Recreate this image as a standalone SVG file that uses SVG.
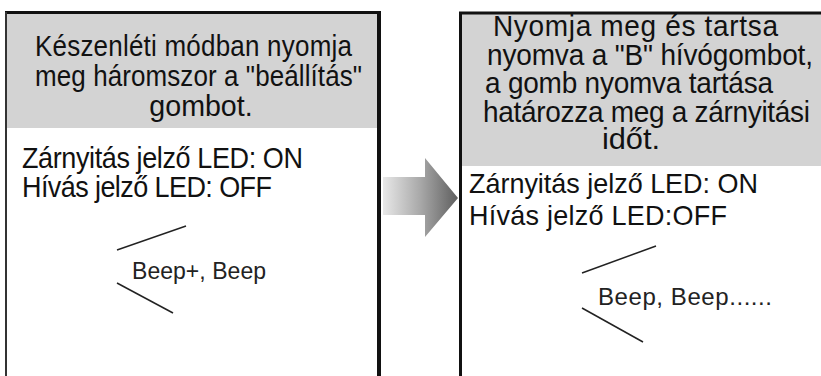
<svg xmlns="http://www.w3.org/2000/svg" width="821" height="376" viewBox="0 0 821 376">
  <style>
    .t { font-family: "Liberation Sans", Arial, sans-serif; fill: #111; }
    .h { font-size: 26px; }
    .hr { font-size: 28px; }
    .b { font-size: 27px; }
    .beep { font-size: 23px; fill: #222; }
    .mid { text-anchor: middle; }
    .hdr { fill: #d3d3d3; }
    .brd { stroke: #111; fill: none; }
    .wave { stroke: #222; stroke-width: 1.5; fill: none; }
  </style>
  <defs>
    <linearGradient id="arrowGrad" x1="383" y1="0" x2="458" y2="0" gradientUnits="userSpaceOnUse">
      <stop offset="0" stop-color="#e8e8e8"/>
      <stop offset="0.5" stop-color="#a8a8a8"/>
      <stop offset="1" stop-color="#5e5e5e"/>
    </linearGradient>
  </defs>
  <rect width="821" height="376" fill="#fff"/>

  <g id="step1">
    <rect x="6" y="13" width="373" height="370" fill="#fff"/>
    <rect class="hdr" x="7" y="14" width="371" height="114"/>
    <line class="brd" x1="5" y1="12.5" x2="381" y2="12.5" stroke-width="3"/>
    <line class="brd" x1="6" y1="12" x2="6" y2="376" stroke-width="2" style="stroke:#333"/>
    <line class="brd" x1="379" y1="11" x2="379" y2="376" stroke-width="4"/>
    <text class="t h" transform="matrix(1 0 0 1.12 35 56)" x="0" y="0" textLength="317">Készenléti módban nyomja</text>
    <text class="t h" transform="matrix(1 0 0 1.12 35 86)" x="0" y="0" textLength="327">meg háromszor a "beállítás"</text>
    <text class="t h mid" transform="matrix(1.1 0 0 1.12 201 116)" x="0" y="0">gombot.</text>
    <text class="t b" transform="matrix(1 0 0 1.1 22 168)" x="0" y="0" textLength="281">Zárnyitás jelző LED: ON</text>
    <text class="t b" transform="matrix(1 0 0 1.1 22 197)" x="0" y="0" textLength="250">Hívás jelző LED: OFF</text>
    <text class="t beep" x="132" y="279" textLength="134">Beep+, Beep</text>
  </g>

  <g id="arrow">
    <polygon points="383,177 425,177 425,158 458,198 425,237 425,215 383,215" fill="url(#arrowGrad)"/>
  </g>

  <g id="step2">
    <rect x="460" y="13" width="370" height="370" fill="#fff"/>
    <rect class="hdr" x="461" y="14" width="370" height="152"/>
    <line class="brd" x1="459" y1="13" x2="821" y2="13" stroke-width="3"/>
    <line class="brd" x1="460.5" y1="12" x2="460.5" y2="376" stroke-width="3"/>
    <text class="t hr" transform="matrix(1 0 0 1.05 493 36)" x="0" y="0" textLength="285">Nyomja meg és tartsa</text>
    <text class="t hr" transform="matrix(1 0 0 1.05 487 65)" x="0" y="0" textLength="326">nyomva a "B" hívógombot,</text>
    <text class="t hr" transform="matrix(1 0 0 1.05 485 93)" x="0" y="0" textLength="288">a gomb nyomva tartása</text>
    <text class="t hr" transform="matrix(1 0 0 1.05 483 122)" x="0" y="0" textLength="327">határozza meg a zárnyitási</text>
    <text class="t hr mid" transform="matrix(1.1 0 0 1.05 631 149)" x="0" y="0">időt.</text>
    <text class="t b" transform="matrix(1 0 0 1.05 469 193)" x="0" y="0" textLength="289">Zárnyitás jelző LED: ON</text>
    <text class="t b" transform="matrix(1 0 0 1.05 469 225)" x="0" y="0" textLength="258">Hívás jelző LED:OFF</text>
    <text class="t beep" x="598" y="305" textLength="174" style="font-size:24px">Beep, Beep......</text>
  </g>

  <g id="connectors">
    <line class="wave" x1="117" y1="250" x2="186" y2="226"/>
    <line class="wave" x1="117" y1="283" x2="173" y2="313"/>
    <line class="wave" x1="582" y1="273" x2="656" y2="246"/>
    <line class="wave" x1="582" y1="308" x2="643" y2="342"/>
  </g>
</svg>
